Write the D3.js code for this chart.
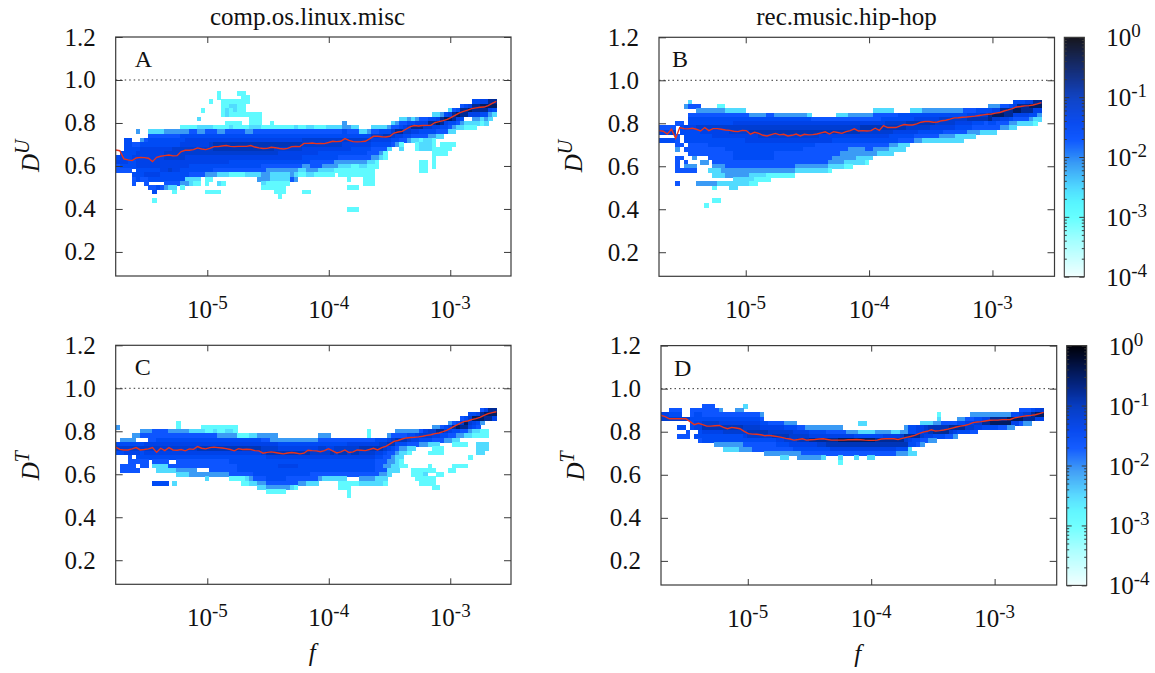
<!DOCTYPE html>
<html>
<head>
<meta charset="utf-8">
<script src="https://cdn.jsdelivr.net/npm/d3@7"></script>
<style>
  body { margin: 0; background: #fff; }
  text { font-family: "Liberation Serif", serif; fill: #111; }
</style>
</head>
<body>
<div id="chart"></div>
<script>
// y value at the centre of each row of cells, top row first
var rowCenters = [0.94, 0.92, 0.90, 0.88, 0.86, 0.84, 0.82, 0.80, 0.78, 0.76, 0.74, 0.72, 0.70, 0.68,
                  0.66, 0.64, 0.62, 0.60, 0.58, 0.56, 0.54, 0.52, 0.50, 0.48, 0.46, 0.44, 0.42, 0.40];

// density that each character of the cell rows stands for ('.' = empty)
var levelChars = "123456789xy";
var levelDensity = [0.0004, 0.0013, 0.003, 0.008, 0.02, 0.03, 0.045, 0.07, 0.11, 0.17, 0.32];

var xTickValues = [1e-5, 1e-4, 1e-3];
var xTickExponents = ["-5", "-4", "-3"];
var yTickValues = [0.2, 0.4, 0.6, 0.8, 1.0, 1.2];
var cbTickValues = [1, 0.1, 0.01, 0.001, 0.0001];
var cbTickExponents = ["0", "-1", "-2", "-3", "-4"];
var cbMinorTicks = [0.9,0.8,0.7,0.6,0.5,0.4,0.3,0.2, 0.09,0.08,0.07,0.06,0.05,0.04,0.03,0.02,
                    0.009,0.008,0.007,0.006,0.005,0.004,0.003,0.002, 0.0009,0.0008,0.0007,0.0006,0.0005,0.0004,0.0003,0.0002];

var colorLogStops = [-4, -3.4, -3, -2.75, -2.5, -2.1, -1.7, -1.4, -1, -0.7, -0.3, 0];
var colorStops = ["#f2ffff", "#a5ffff", "#66ffff", "#58f5ff", "#50d8ff", "#3a9cf5", "#0a55ff", "#0044ee", "#0038c0", "#002488", "#00103f", "#000008"];

// cells, one string per row, ten columns per group
var panelARows = [
  ".......... .......... .....2.... 22",
  ".......... .......... .....2.... .22",
  ".......... .......... ...2..2222 222....... .......... .......... .......... .......... ........66 77xx",
  ".......... .......... ......2233 22........ .......... .......... .......... .......... .....567xx yyyy",
  ".......... .......... .2....2323 22........ .......... .......... .......... .......... ..356xxyxx xx76",
  ".......... .......... ......2322 222222.... .......... .......... .......... ........33 467xyxx777 6643",
  ".......... .......... 3......... ...222.... .......... .......... .......... 3343455667 xyyx76..44 343.",
  ".......... .......... .......222 2..222..2. .......... ......4... ........34 5566777xxy x766543333 23",
  ".......... ......2222 3333222232 2223332222 2222322332 2233334433 ...3333455 678xxx8877 665433222.",
  ".....4..33 3344444455 4455544555 5544555555 5555555555 5555556555 334556668x x887766665 5533",
  "........55 5555556666 6666666666 6666666666 6666666666 6666666666 6668889987 7665555443 3",
  "..66..4566 6666666777 7777777777 7777777777 7777778888 8888888888 8887777766 554332332.",
  "..66556666 6666667777 7778999999 9999999999 9999998888 8888887777 7776666654 2...23332. 2222",
  "..66667777 7777888888 8888999999 9999999998 8888887777 7777777766 66655553.. 3...233322 222",
  ".666677777 7788888888 8888888888 8888888888 7777777777 6666666666 6655542... ........22 22",
  "6766777777 7788888777 7777777777 7777777777 7777776666 6666655555 5554432... ........2",
  "7776677777 7777777777 7777777766 6666666666 6666666655 5555444444 44332..... .....22.2.",
  "5666677777 7777777766 6666666666 6666665555 5555554455 5444433322 33222..... .....22.2.",
  "5555.66666 6778776666 6666555555 5555555444 4444433444 3333222222 2222...... .....22...",
  "....666777 7666666655 5544433322 2233334433 3334322332 2222.22222 2222......",
  "....565566 6666666333 3.22...... .....44433 33354..... .......2.. .222......",
  "....5..5.. ..55554432 2.2..32... ......3222 222....... .......... .222",
  "........55 65433.2... .......... ......2222 22........ .......222",
  ".........6 ....2..... ..2222.... .........2 22....22..",
  ".......... .......... .......... .......... 2",
  ".........2",
  "",
  ".......... .......... .......... .......... .......... .......222"
];

var panelBRows = [
  "",
  "",
  ".......3.. .......... .......... .......... .......... .......... .......... .......... ......6667 7xx",
  "......4555 ....22.... .......... .......... .......... .......... .......... .......... 4445567xxx yyy",
  ".........4 4444443333 3......... .......... .......... ..33333... .333444444 4444555666 677xxxyyxx x77",
  ".......555 5555555555 5544445544 4444443... ...3334444 4455555566 6666666666 6666677788 xyyyxx7777 664",
  ".......666 6666666666 6666666666 6666666555 5555555555 5555666666 6677777788 8888899999 x887765555 433",
  "....55.666 6666666677 7777777777 7777777777 7777777777 7777788888 9999999888 8877776665 6655544333 32",
  "5555.67778 8888888888 8888888888 8888888888 8888888889 9999999999 8888887777 7766665555 5554433",
  "7778.66666 7777777888 8899999999 9999999999 9999999998 8888888777 7776666665 5555544433 33",
  "....5.6666 6667777777 7777888888 8888888887 7777777777 7777776666 6655555544 4433333",
  "66665.6666 6666666666 6777777777 7777777777 7766666666 6666666655 5544333333 3333",
  "....55.555 5566666666 6666666666 6666666655 5555555555 5555554433 3",
  "....4.5555 5555556666 6666666666 6666655555 5555554444 5544443333",
  ".......555 5555555566 6666666655 5555555555 5555444444 4443333",
  "....55..4. ..55555566 6666666655 5555555555 5544444433 33",
  "....5.5... 44.5555555 5555555555 5555555555 5444433333 2",
  "....5.444. ...4445555 5555555555 5554444444 4333322",
  "....55555. ..33344444 4444444444 4443333333 32",
  ".......... ...3334444 4433332222 222",
  ".......... ........33 3332222",
  "....5....4 4444333333 3322",
  ".......... ...2...33.",
  "",
  "",
  ".......... ...22",
  ".......... .2",
  ""
];

var panelCRows = [
  "",
  "",
  ".......... .......... .......... .......... .......... .......... .......... .......... .......... 57xx",
  ".......... .......... .......... .......... .......... .......... .......... .......... .......667 xyyy",
  ".......... .......... .......... .......... .......... .......... .......... .......... .....568yy yxx7",
  ".......... .....2.... .......... .......... .......... .......... .......... .......... ..4568y876 4",
  "4......... .....2.... .222222222 .......... .......... .......... .......... ........44 567xyxx765",
  "......4445 5554444433 3322322332 .......... .......... .......... ..2......4 444445788x x876655433 22",
  "....445555 5555555555 5555544444 2223344444 .......... 444....... ..2....455 5566788877 6655443322 22",
  ".4444...55 6666666666 6666666666 6666665544 4444444444 5555555555 5555666789 9987766655 54433",
  "6666666777 7777777777 7777777777 7777777777 6666666666 6666666777 7777788996 6655544333 ...2222..3 33",
  "8888888888 8888888888 9999999999 9999998888 7777777777 8877888888 9999998765 4433....22 2........3 33",
  "6677776777 7777777777 7777777777 7777778999 9999999988 8889899899 8888776554 332....222 2........3 3",
  "...5.66666 6666666666 6666666666 6666666777 7777777777 7777777777 7777665543 3......... .......2",
  "...55555.5 555..55555 5555555566 6666666666 6666666666 6666666666 6666555443 2",
  ".5555.55.3 3335555555 5555555555 6666666666 7777766666 6666666666 6666554433 22.....2.. ...2222",
  ".55555.... 3333344444 ...5555555 6666666666 6666666666 6666666666 6666555333 ...222222. ..22",
  ".......... .....33344 4444444455 5555666666 6666666655 5555555555 55555443.. ...2223..2 2",
  ".......... .......... ..3.....22 2234555666 6655555555 4333333... 4444333... ....22222.",
  ".........6 666.3..... .......... .223344555 5555544333 .....22222 3333332... .....2222.",
  ".......... .......... .......... .....33444 44432..... .....222.. .......... ........22",
  ".......... .......... .......... .......222 22........ .......2..",
  ".......... .......... .......... .......... .......... .......2",
  "", "", "", "", ""
];

var panelDRows = [
  "",
  ".......... 555....... 3",
  "..555..555 55554...44 .......... .......... .......... .......... .......... .......... .......555 678",
  "77666..566 5555555555 55554..... .......... .......... .......... .......2.. .....44444 4444466788 xyy",
  "8888888666 6666666666 66665..... .......... .......... .......... .......3.. ..44556677 xxxxyyyyxx x77",
  ".......677 8888777777 7777665555 444....... ........33 .......... ...3334455 55667788xx yyyyy77544",
  "....66.677 9999999999 8888777777 6665544444 4444...... .........4 6677899999 xxxx887766 665544",
  "......5..6 7777788888 8999998888 8877776666 5555544433 3344443344 667789xxxx 8766655...",
  "....555.66 6666666666 7888888999 9888887777 7777777666 666677778x xxx8776665 54",
  ".........5 6666666666 6666666677 888999xxxx xxxyyyyyyy yyxxxxxxx8 7665544",
  ".......... ...4444444 5555555566 6777777788 9999999999 9999999999 6654",
  ".......... .....33334 4455555555 5566666666 6777777777 7777777666 3",
  ".......... .......... .....44444 4444555555 5555555555 5555555444 33",
  ".......... .......... .........3 3..4444443 ...3...3.. 33",
  ".......... .......... .......... .......... ...2",
  "", "", "", "", "", "", "", "", "", "", "", "", ""
];

// red curves, one value per bin
var panelAMedian = [.674,.671,.633,.628,.625,.637,.640,.639,.636,.620,.640,.645,.648,.651,.647,.648,.667,.673,.673,.676,.684,.679,.676,.682,.690,.690,.693,.695,.691,.690,.691,.691,.691,.695,.688,.684,.681,.682,.687,.685,.681,.679,.682,.690,.691,.690,.705,.705,.707,.704,.705,.704,.709,.715,.713,.715,.727,.719,.713,.712,.713,.715,.726,.738,.738,.736,.735,.738,.753,.758,.761,.772,.783,.788,.786,.788,.789,.789,.802,.806,.811,.817,.826,.837,.847,.854,.860,.867,.870,.873,.874,.881,.891,.901];
var panelBMedian = [.766,.763,.750,.772,.730,.780,.775,.774,.777,.772,.764,.780,.766,.775,.775,.772,.769,.767,.763,.761,.767,.766,.749,.758,.753,.744,.741,.747,.753,.746,.749,.741,.744,.750,.741,.749,.746,.747,.750,.755,.760,.750,.761,.757,.753,.761,.766,.774,.764,.766,.764,.766,.777,.767,.789,.780,.781,.780,.788,.794,.792,.792,.797,.805,.808,.808,.805,.806,.812,.814,.819,.825,.826,.828,.829,.831,.833,.836,.839,.842,.843,.847,.850,.857,.862,.868,.876,.878,.881,.882,.885,.890,.896];
var panelCMedian = [.726,.716,.713,.713,.718,.724,.713,.715,.718,.724,.702,.721,.710,.724,.713,.712,.715,.709,.718,.716,.729,.721,.718,.724,.726,.724,.722,.719,.715,.709,.719,.715,.716,.715,.710,.709,.698,.702,.704,.701,.698,.695,.699,.701,.699,.695,.698,.712,.710,.709,.705,.710,.719,.709,.699,.704,.713,.701,.704,.713,.712,.710,.715,.721,.713,.724,.730,.741,.753,.757,.764,.769,.771,.772,.774,.777,.781,.784,.789,.792,.798,.805,.816,.826,.836,.845,.848,.854,.859,.865,.874,.882,.887,.891];
var panelDMedian = [.876,.870,.860,.860,.860,.860,.860,.847,.833,.839,.833,.826,.826,.828,.829,.820,.814,.820,.817,.814,.802,.791,.789,.788,.786,.781,.783,.780,.777,.774,.769,.766,.761,.764,.767,.761,.763,.764,.766,.767,.764,.761,.761,.761,.761,.763,.763,.764,.763,.761,.760,.760,.761,.766,.767,.767,.767,.764,.769,.774,.778,.783,.791,.798,.802,.809,.803,.805,.808,.812,.817,.822,.826,.829,.834,.842,.845,.847,.850,.853,.854,.854,.856,.856,.857,.864,.868,.871,.874,.876,.879,.884,.890];

var binsPerDecade = 30;

var panels = [
  { letter: "A", rows: panelARows, median: panelAMedian, yName: "U", title: "comp.os.linux.misc", titleX: 307.5,
    left: 115.7, right: 511, top: 37, bottom: 276, logMin: -5.754, logMax: -2.5, letterDx: 19 },
  { letter: "B", rows: panelBRows, median: panelBMedian, yName: "U", title: "rec.music.hip-hop", titleX: 846.5, cbar: 1064.3,
    left: 659, right: 1054.5, top: 37.3, bottom: 276.3, logMin: -5.703, logMax: -2.497, letterDx: 13 },
  { letter: "C", rows: panelCRows, median: panelCMedian, yName: "T", xName: true,
    left: 115.7, right: 511, top: 345.3, bottom: 584.3, logMin: -5.754, logMax: -2.5, letterDx: 19 },
  { letter: "D", rows: panelDRows, median: panelDMedian, yName: "T", xName: true, cbar: 1066.7,
    left: 661, right: 1056.7, top: 345.6, bottom: 585, logMin: -5.703, logMax: -2.497, letterDx: 13 }
];

var width = 1155, height = 673;
var svg = d3.select("#chart").append("svg").attr("width", width).attr("height", height).style("display", "block");

// the heat cells are slightly soft in the source
svg.append("defs").append("filter").attr("id", "soft")
  .append("feGaussianBlur").attr("stdDeviation", 0.45);

var frameColor = "#3a3a3a";
var color = d3.scaleLinear().domain(colorLogStops).range(colorStops).clamp(true);

function styleAxis(g) {
  g.select(".domain").remove();
  g.selectAll("line").attr("stroke", frameColor).attr("stroke-width", 1);
}

function powerLabel(parent, x, y, exponent, anchor) {
  var t = parent.append("text").attr("x", x).attr("y", y).attr("text-anchor", anchor).style("font-size", "25px");
  t.append("tspan").text("10");
  t.append("tspan").attr("dy", -9).style("font-size", "19px").text(exponent);
}

panels.forEach(function(p) {
  var x = d3.scaleLog().domain([Math.pow(10, p.logMin), Math.pow(10, p.logMax)]).range([p.left, p.right]);
  var y = d3.scaleLinear().domain([0.088, 1.2]).range([p.bottom, p.top]);
  var g = svg.append("g");

  // left edge of bin i
  function binEdge(i) {
    return x(Math.pow(10, p.logMin + i / binsPerDecade));
  }

  // heat cells
  var cells = [];
  p.rows.forEach(function(row, r) {
    row.replace(/ /g, "").split("").forEach(function(ch, c) {
      if (ch !== ".") cells.push({ col: c, v: rowCenters[r], density: levelDensity[levelChars.indexOf(ch)] });
    });
  });
  g.append("g").attr("filter", "url(#soft)").selectAll("rect").data(cells).enter().append("rect")
    .attr("x", d => binEdge(d.col))
    .attr("width", d => binEdge(d.col + 1) - binEdge(d.col) + 0.5)
    .attr("y", d => y(d.v + 0.01))
    .attr("height", d => y(d.v - 0.01) - y(d.v + 0.01) + 0.5)
    .attr("shape-rendering", "crispEdges")
    .attr("fill", d => color(Math.log10(d.density)));

  // dotted line at 1
  g.append("line")
    .attr("x1", p.left).attr("x2", p.right)
    .attr("y1", y(1)).attr("y2", y(1))
    .attr("stroke", "#333").attr("stroke-width", 1).attr("stroke-dasharray", "1.5 3");

  // median curve, stretched from the axis to the end of the last bin
  var nBins = p.median.length;
  var line = d3.line()
    .x((d, i) => binEdge(i * nBins / (nBins - 1)))
    .y(d => y(d));
  g.append("path").datum(p.median)
    .attr("d", line)
    .attr("fill", "none")
    .attr("stroke", "#e8331c")
    .attr("stroke-width", 1.4);

  // ticks on all four sides, pointing inward
  g.append("g").attr("transform", `translate(0, ${p.bottom})`)
    .call(d3.axisBottom(x).tickValues(xTickValues).tickSize(-6).tickFormat("")).call(styleAxis);
  g.append("g").attr("transform", `translate(0, ${p.top})`)
    .call(d3.axisTop(x).tickValues(xTickValues).tickSize(-6).tickFormat("")).call(styleAxis);
  g.append("g").attr("transform", `translate(${p.left}, 0)`)
    .call(d3.axisLeft(y).tickValues(yTickValues).tickSize(-7).tickFormat("")).call(styleAxis);
  g.append("g").attr("transform", `translate(${p.right}, 0)`)
    .call(d3.axisRight(y).tickValues(yTickValues).tickSize(-7).tickFormat("")).call(styleAxis);

  g.append("rect")
    .attr("x", p.left).attr("y", p.top)
    .attr("width", p.right - p.left).attr("height", p.bottom - p.top)
    .attr("fill", "none").attr("stroke", frameColor).attr("stroke-width", 1.2);

  // tick labels
  xTickValues.forEach(function(v, i) {
    powerLabel(g, x(v), p.bottom + 42, xTickExponents[i], "middle");
  });
  yTickValues.forEach(function(v) {
    g.append("text").attr("x", p.left - 20).attr("y", y(v) + 8.5)
      .attr("text-anchor", "end").style("font-size", "25px").text(v.toFixed(1));
  });

  g.append("text").attr("x", p.left + p.letterDx).attr("y", p.top + 30)
    .style("font-size", "24px").text(p.letter);

  if (p.title) {
    g.append("text").attr("x", p.titleX).attr("y", 25).attr("text-anchor", "middle")
      .style("font-size", "25px").text(p.title);
  }
  if (p.xName) {
    g.append("text").attr("x", (p.left + p.right) / 2 - 1).attr("y", p.bottom + 77).attr("text-anchor", "middle")
      .style("font-size", "25px").style("font-style", "italic").text("f");
  }

  // y axis name, rotated
  var yName = g.append("text")
    .attr("transform", `translate(${p.left - 77}, ${p.top + 135}) rotate(-90)`)
    .style("font-size", "25px").style("font-style", "italic");
  yName.append("tspan").text("D");
  yName.append("tspan").attr("dy", -10).style("font-size", "20px").text(p.yName);

  // colour bar
  if (p.cbar) {
    var cbWidth = 20;
    var cb = d3.scaleLog().domain([1e-4, 1]).range([p.bottom + 0.4, p.top]);
    var cbSteps = d3.range(0, 240).map(i => -4 + i / 60);
    var cg = svg.append("g");
    cg.append("g").selectAll("rect").data(cbSteps).enter().append("rect")
      .attr("x", p.cbar).attr("width", cbWidth)
      .attr("y", d => cb(Math.pow(10, d + 1 / 60)))
      .attr("height", d => cb(Math.pow(10, d)) - cb(Math.pow(10, d + 1 / 60)) + 0.4)
      .attr("fill", d => color(d + 1 / 120));
    cg.append("g").attr("transform", `translate(${p.cbar}, 0)`)
      .call(d3.axisLeft(cb).tickValues(cbTickValues).tickSize(-5).tickFormat("")).call(styleAxis);
    cg.append("g").attr("transform", `translate(${p.cbar + cbWidth}, 0)`)
      .call(d3.axisRight(cb).tickValues(cbTickValues).tickSize(-5).tickFormat("")).call(styleAxis);
    cg.append("g").attr("transform", `translate(${p.cbar}, 0)`)
      .call(d3.axisLeft(cb).tickValues(cbMinorTicks).tickSize(-2.5).tickFormat("")).call(styleAxis);
    cg.append("g").attr("transform", `translate(${p.cbar + cbWidth}, 0)`)
      .call(d3.axisRight(cb).tickValues(cbMinorTicks).tickSize(-2.5).tickFormat("")).call(styleAxis);
    cg.append("rect")
      .attr("x", p.cbar).attr("y", p.top)
      .attr("width", cbWidth).attr("height", p.bottom - p.top + 0.4)
      .attr("fill", "none").attr("stroke", frameColor).attr("stroke-width", 1.1);
    cbTickValues.forEach(function(v, i) {
      powerLabel(cg, p.cbar + 42, cb(v) + 9, cbTickExponents[i], "start");
    });
  }
});
</script>
</body>
</html>
